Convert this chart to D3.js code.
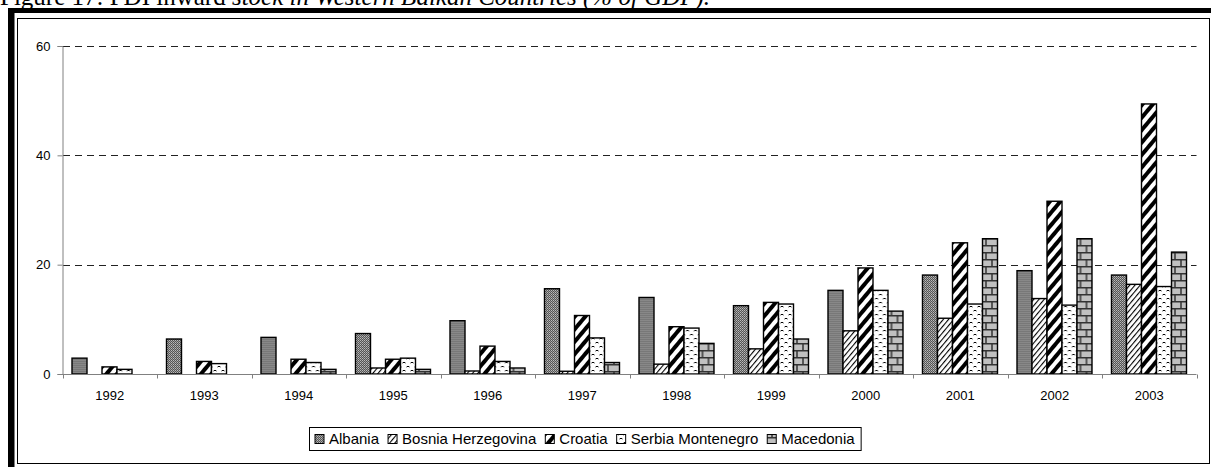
<!DOCTYPE html>
<html>
<head>
<meta charset="utf-8">
<script src="https://cdn.jsdelivr.net/npm/d3@7/dist/d3.min.js"></script>
<style>
  body { margin: 0; background: #fff; }
  svg { display: block; }
</style>
</head>
<body>
<div id="chart"></div>
<script>
// chart data
const years = ["1992", "1993", "1994", "1995", "1996", "1997", "1998", "1999", "2000", "2001", "2002", "2003"];
const seriesNames = ["Albania", "Bosnia Herzegovina", "Croatia", "Serbia Montenegro", "Macedonia"];
const albania = [2.9, 6.4, 6.7, 7.4, 9.75, 15.6, 14.0, 12.5, 15.3, 18.1, 18.9, 18.1];
const bosnia = [0, 0, 0, 1.1, 0.55, 0.5, 1.8, 4.6, 7.9, 10.2, 13.8, 16.4];
const croatia = [1.3, 2.3, 2.7, 2.7, 5.1, 10.7, 8.65, 13.1, 19.4, 24.0, 31.6, 49.4];
const serbia = [0.85, 1.9, 2.1, 2.9, 2.3, 6.6, 8.4, 12.8, 15.3, 12.8, 12.6, 16.0];
const macedonia = [0, 0, 0.85, 0.85, 1.1, 2.1, 5.6, 6.4, 11.5, 24.75, 24.75, 22.3];
const yTicks = [0, 20, 40, 60];
const title = "Figure 17: FDI inward ";
const titleItalic = "stock in Western Balkan Countries (% of GDP).";

const seriesValues = [albania, bosnia, croatia, serbia, macedonia];

function drawChart(container, width, height) {
    d3.select(container).selectAll("*").remove();

    const svg = d3.select(container)
        .append("svg")
        .attr("width", width)
        .attr("height", height);

    // ---- fill patterns (black & white print style)
    const defs = svg.append("defs");

    const pAlb = defs.append("pattern").attr("id", "p0")
        .attr("patternUnits", "userSpaceOnUse").attr("width", 2).attr("height", 2);
    pAlb.append("rect").attr("width", 2).attr("height", 2).attr("fill", "#555");
    pAlb.append("rect").attr("width", 1).attr("height", 1).attr("fill", "#bbb");
    pAlb.append("rect").attr("x", 1).attr("y", 1).attr("width", 1).attr("height", 1).attr("fill", "#9a9a9a");

    const pBos = defs.append("pattern").attr("id", "p1")
        .attr("patternUnits", "userSpaceOnUse").attr("width", 4).attr("height", 4)
        .attr("patternTransform", "rotate(40)");
    pBos.append("rect").attr("width", 4).attr("height", 4).attr("fill", "#fff");
    pBos.append("rect").attr("width", 1.1).attr("height", 4).attr("fill", "#000");

    const pCro = defs.append("pattern").attr("id", "p2")
        .attr("patternUnits", "userSpaceOnUse").attr("width", 8).attr("height", 8)
        .attr("patternTransform", "rotate(40)");
    pCro.append("rect").attr("width", 8).attr("height", 8).attr("fill", "#fff");
    pCro.append("rect").attr("width", 4).attr("height", 8).attr("fill", "#000");

    const pSer = defs.append("pattern").attr("id", "p3")
        .attr("patternUnits", "userSpaceOnUse").attr("width", 8).attr("height", 8);
    pSer.append("rect").attr("width", 8).attr("height", 8).attr("fill", "#fff");
    pSer.append("path").attr("d", "M0.5,3 Q2,1.5 3.5,3").attr("fill", "none").attr("stroke", "#000").attr("stroke-width", 1);
    pSer.append("path").attr("d", "M4.5,7 Q6,5.5 7.5,7").attr("fill", "none").attr("stroke", "#000").attr("stroke-width", 1);

    const pMac = defs.append("pattern").attr("id", "p4")
        .attr("patternUnits", "userSpaceOnUse").attr("width", 12).attr("height", 14);
    pMac.append("rect").attr("width", 12).attr("height", 14).attr("fill", "#c0c0c0");
    pMac.append("path")
        .attr("d", "M0,0.75H12M0,7.75H12M1,0V7M7,7V14")
        .attr("stroke", "#333").attr("stroke-width", 1.5).attr("fill", "none");

    const fills = ["url(#p0)", "url(#p1)", "url(#p2)", "url(#p3)", "url(#p4)"];

    // ---- frame and title (title is cropped at the top edge, as in the source)
    svg.append("text")
        .attr("x", 0)
        .attr("y", 5)
        .style("font-family", "'Liberation Serif', 'Times New Roman', serif")
        .style("font-size", "25px")
        .call(t => {
            t.append("tspan").text(title);
            t.append("tspan").style("font-style", "italic").text(titleItalic);
        });

    svg.append("rect").attr("x", 8).attr("y", 8).attr("width", width - 8).attr("height", 5).attr("fill", "#000");
    svg.append("rect").attr("x", 8).attr("y", 8).attr("width", 6.5).attr("height", height - 8).attr("fill", "#000");
    svg.append("rect")
        .attr("x", 17.5).attr("y", 18.5)
        .attr("width", 1209.5 - 17.5).attr("height", 463.5 - 18.5)
        .attr("fill", "none").attr("stroke", "#000").attr("stroke-width", 1);

    // ---- scales
    const x = d3.scaleBand().domain(years).range([62.5, 1196.5]).padding(0);
    const x1 = d3.scaleBand().domain(seriesNames).range([9.5, 84.5]).padding(0);
    const y = d3.scaleLinear().domain([0, 60]).range([374, 46]);

    const g = svg.append("g");

    // dashed gridlines
    g.selectAll("line.grid")
        .data(yTicks.filter(d => d > 0))
        .enter()
        .append("line")
        .attr("class", "grid")
        .attr("x1", 63)
        .attr("x2", 1196.5)
        .attr("y1", d => Math.round(y(d)) + 0.5)
        .attr("y2", d => Math.round(y(d)) + 0.5)
        .attr("stroke", "#222")
        .attr("stroke-dasharray", "7,5");

    // y axis
    const yAxis = g.append("g")
        .attr("transform", "translate(62.5,0)")
        .call(d3.axisLeft(y).tickValues(yTicks).tickSize(5).tickPadding(7));
    yAxis.select(".domain").attr("stroke", "#808080");
    yAxis.selectAll(".tick line").attr("stroke", "#808080");
    yAxis.selectAll("text")
        .style("font-family", "'Liberation Sans', Arial, sans-serif")
        .style("font-size", "13px")
        .attr("fill", "#000");

    // bars
    const groups = g.selectAll("g.year")
        .data(years)
        .enter()
        .append("g")
        .attr("class", "year")
        .attr("transform", d => "translate(" + x(d) + ",0)");

    groups.selectAll("rect")
        .data((d, i) => seriesNames.map((s, j) => ({ s: s, j: j, v: seriesValues[j][i] })).filter(e => e.v > 0))
        .enter()
        .append("rect")
        .attr("x", d => x1(d.s))
        .attr("y", d => y(d.v))
        .attr("width", x1.bandwidth())
        .attr("height", d => y(0) - y(d.v))
        .attr("fill", d => fills[d.j])
        .attr("stroke", "#000")
        .attr("stroke-width", 1.4);

    // x axis
    const xAxis = g.append("g").attr("transform", "translate(0,374.5)");
    xAxis.append("line")
        .attr("x1", 62.5).attr("x2", 1196.5)
        .attr("stroke", "#808080");
    xAxis.selectAll("line.tick")
        .data(years.concat(["end"]))
        .enter()
        .append("line")
        .attr("class", "tick")
        .attr("x1", (d, i) => Math.round(x.range()[0] + i * x.step()) + 0.5)
        .attr("x2", (d, i) => Math.round(x.range()[0] + i * x.step()) + 0.5)
        .attr("y1", 0).attr("y2", 4)
        .attr("stroke", "#808080");
    xAxis.selectAll("text")
        .data(years)
        .enter()
        .append("text")
        .attr("x", d => x(d) + x.bandwidth() / 2)
        .attr("y", 25)
        .attr("text-anchor", "middle")
        .style("font-family", "'Liberation Sans', Arial, sans-serif")
        .style("font-size", "13px")
        .text(d => d);

    // legend
    const legend = svg.append("g");
    const legBox = legend.append("rect")
        .attr("fill", "#fff").attr("stroke", "#000").attr("stroke-width", 1);
    let cx = 0;
    const items = legend.append("g");
    seriesNames.forEach((name, j) => {
        items.append("rect")
            .attr("x", cx).attr("y", -9.5)
            .attr("width", 9).attr("height", 9)
            .attr("fill", fills[j]).attr("stroke", "#000").attr("stroke-width", 1);
        const t = items.append("text")
            .attr("x", cx + 14).attr("y", 0)
            .style("font-family", "'Liberation Sans', Arial, sans-serif")
            .style("font-size", "15px")
            .text(name);
        cx += 14 + t.node().getComputedTextLength() + 9;
    });
    const legW = cx - 9 + 12;
    const legX = 309;
    items.attr("transform", "translate(" + (legX + 6) + ",444)");
    legBox.attr("x", legX + 0.5).attr("y", 427.5).attr("width", legW).attr("height", 23);

    return svg.node();
}

drawChart("#chart", 1211, 467);
</script>
</body>
</html>
